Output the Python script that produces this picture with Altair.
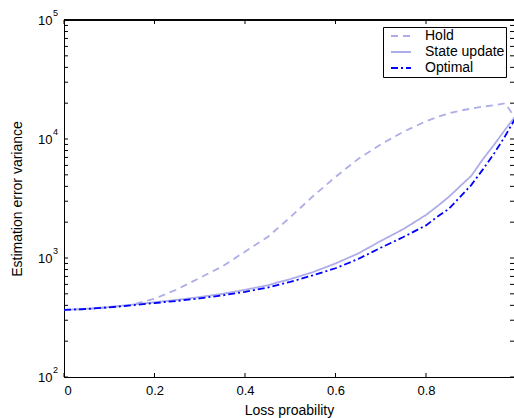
import altair as alt
import pandas as pd

# ---- data ----
p = [0.0, 0.05, 0.1, 0.15, 0.2, 0.25, 0.3, 0.35, 0.4, 0.45, 0.5, 0.55, 0.6,
     0.65, 0.7, 0.75, 0.8, 0.825, 0.85, 0.875, 0.9, 0.925, 0.95, 0.975, 1.0]
hold = [366, 372, 382, 405, 455, 545, 680, 850, 1130, 1500, 2200, 3300, 4800,
        6800, 9000, 11500, 14100, 15300, 16400, 17300, 18000, 18700, 19200, 20000, 14500]
state_update = [366, 375, 388, 405, 425, 445, 470, 500, 540, 590, 665, 760, 900,
                1090, 1390, 1750, 2300, 2720, 3250, 4000, 4900, 6700, 8900, 12000, 16000]
optimal = [366, 373, 385, 400, 418, 436, 458, 485, 520, 565, 630, 715, 820,
           980, 1220, 1500, 1880, 2220, 2580, 3250, 4100, 5500, 7500, 10600, 15500]

series_names = ["Hold", "State update", "Optimal"]
y_major = [100, 1000, 10000, 100000]
y_exp = ["2", "3", "4", "5"]
y_minor = [m * d for d in (100, 1000, 10000) for m in range(2, 10)]
x_ticks = [0, 0.2, 0.4, 0.6, 0.8]

rows = []
for name, vals in zip(series_names, [hold, state_update, optimal]):
    for pi, v in zip(p, vals):
        rows.append({"p": pi, "v": v, "series": name})
df = pd.DataFrame(rows)

W, H = 450, 357
FONT = "Liberation Sans"

xscale = alt.Scale(domain=[0, 0.9945], nice=False, zero=False)
yscale = alt.Scale(type="log", domain=[100, 100000], nice=False)

lines = alt.Chart(df).mark_line(strokeWidth=1.8, clip=True).encode(
    x=alt.X("p:Q", scale=xscale,
            axis=alt.Axis(values=x_ticks, title="Loss proability", ticks=False,
                          labelPadding=7, grid=False, domainColor="black",
                          labelFontSize=13, titleFontSize=14, labelColor="black",
                          titleColor="black", titleFontWeight="normal",
                          titlePadding=6, labelFont=FONT, titleFont=FONT,
                          format="~g")),
    y=alt.Y("v:Q", scale=yscale,
            axis=alt.Axis(values=y_major, labelExpr="'10'", title="Estimation error variance",
                          ticks=False, grid=False, labelPadding=12, domainColor="black",
                          labelFontSize=13, titleFontSize=14, labelColor="black",
                          titleColor="black", titleFontWeight="normal",
                          titlePadding=13, labelFont=FONT, titleFont=FONT,
                          labelBaseline="middle")),
    color=alt.Color("series:N",
                    scale=alt.Scale(domain=series_names,
                                    range=["#adadea", "#adadea", "#0000ff"]),
                    legend=alt.Legend(title=None, orient="none", legendX=319, legendY=7,
                                      fillColor="white", strokeColor="black",
                                      padding=1, cornerRadius=0,
                                      symbolType="stroke", symbolSize=400,
                                      symbolStrokeWidth=1.8, symbolOffset=6,
                                      clipHeight=16, labelFontSize=14,
                                      labelFont=FONT, labelColor="black",
                                      rowPadding=0, labelOffset=13, offset=0)),
    strokeDash=alt.StrokeDash("series:N",
                              scale=alt.Scale(domain=series_names,
                                              range=[[7, 5], [1, 0], [7, 3, 2, 3]]),
                              legend=None),
    order="p:Q",
)

rule_color = "black"
ymaj_df = pd.DataFrame({"v": y_major, "e": y_exp})
ytick_df = pd.DataFrame({"v": y_major + y_minor})
xtick_df = pd.DataFrame({"p": x_ticks})

left_ticks = alt.Chart(ytick_df).mark_rule(color=rule_color, strokeWidth=1).encode(
    y=alt.Y("v:Q", scale=yscale), x=alt.value(0), x2=alt.value(4))
right_ticks = alt.Chart(ytick_df).mark_rule(color=rule_color, strokeWidth=1).encode(
    y=alt.Y("v:Q", scale=yscale), x=alt.value(W - 4), x2=alt.value(W))
bottom_ticks = alt.Chart(xtick_df).mark_rule(color=rule_color, strokeWidth=1).encode(
    x=alt.X("p:Q", scale=xscale), y=alt.value(H), y2=alt.value(H - 4))
top_ticks = alt.Chart(xtick_df).mark_rule(color=rule_color, strokeWidth=1).encode(
    x=alt.X("p:Q", scale=xscale), y=alt.value(0), y2=alt.value(4))
top_line = alt.Chart(xtick_df).mark_rule(color=rule_color, strokeWidth=1).encode(
    x=alt.value(0), x2=alt.value(W), y=alt.value(0))

exps = alt.Chart(ymaj_df).mark_text(align="left", baseline="middle", fontSize=9,
                                    font=FONT, color="black", dy=-7).encode(
    y=alt.Y("v:Q", scale=yscale), x=alt.value(-11), text="e:N")

chart = alt.layer(lines, left_ticks, right_ticks, bottom_ticks, top_ticks, top_line, exps).properties(
    width=W, height=H,
    autosize=alt.AutoSizeParams(type="none"),
    padding={"left": 64, "top": 20, "right": 0, "bottom": 41},
).configure_view(stroke=None).configure(background="white")

chart.save("out.html", embed_options={"renderer": "svg", "actions": False})
